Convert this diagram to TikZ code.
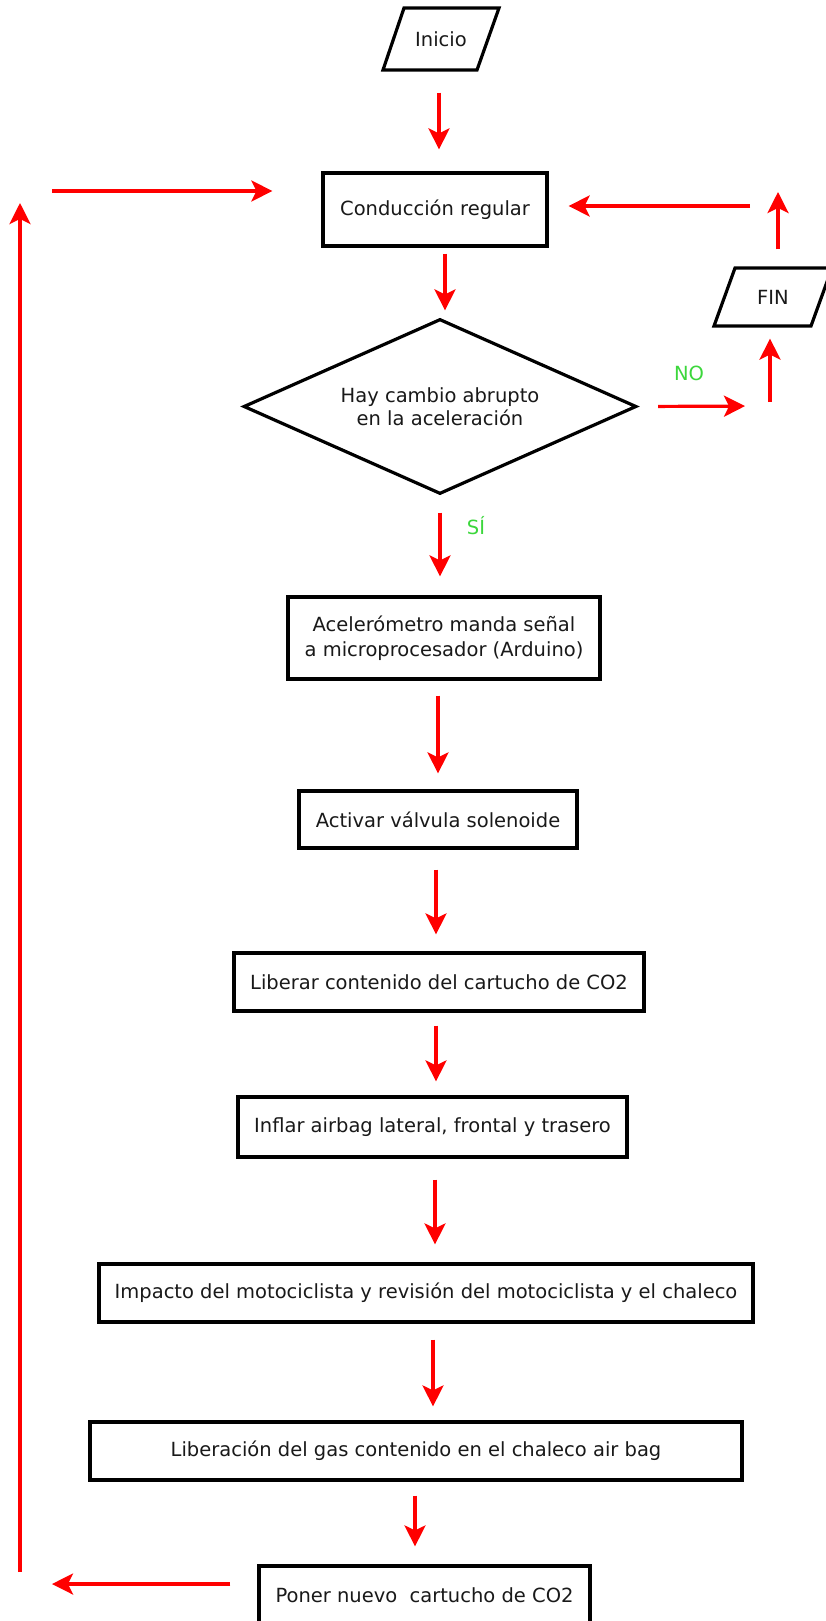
\documentclass[tikz,border=0pt]{standalone}
\usepackage{fontspec}
\setmainfont{DejaVu Sans}
\usetikzlibrary{arrows.meta,shapes.geometric,calc}
\definecolor{okgreen}{RGB}{60,215,60}
\definecolor{txt}{RGB}{25,25,25}
\begin{document}
\begin{tikzpicture}[x=1pt,y=-1pt,
  box/.style={draw=black, line width=3.2pt, rectangle, inner sep=0pt, text=txt,
    font=\fontsize{19.5pt}{25pt}\selectfont, align=center},
  arr/.style={draw=red, line width=3.2pt, -{Stealth[length=21pt,width=21pt,inset=5pt]}},
  lbl/.style={text=okgreen, inner sep=0pt, font=\fontsize{19.5pt}{24pt}\selectfont}]
\fill[white] (0,0) rectangle (825,1621);
\useasboundingbox (0,0) rectangle (825,1621);

% nodes
\node[box, draw=none, minimum width=95pt, minimum height=62pt] (inicio) at (441,39) {Inicio};
\draw[line width=3.2pt] (404,8) -- (499,8) -- (477,70) -- (383,70) -- cycle;

\node[box, minimum width=224pt, minimum height=73pt] (cond) at (435,209.5) {Conducción regular};

\node[box, shape=diamond, shape aspect=2.25, minimum width=393pt, minimum height=175pt,
  font=\fontsize{19.5pt}{23pt}\selectfont] (dia) at (440,406.5) {Hay cambio abrupto\\en la aceleración};

\node[box, draw=none, minimum width=97pt, minimum height=58pt] (fin) at (773,297) {FIN};
\draw[line width=3.2pt] (735,268) -- (832,268) -- (811,326) -- (714,326) -- cycle;

\node[box, minimum width=312pt, minimum height=82pt] (acel) at (444,638) {Acelerómetro manda señal\\a microprocesador (Arduino)};
\node[box, minimum width=278pt, minimum height=57pt] (activ) at (438,819.5) {Activar válvula solenoide};
\node[box, minimum width=410pt, minimum height=58pt] (liber) at (439,982) {Liberar contenido del cartucho de CO2};
\node[box, minimum width=389pt, minimum height=60pt] (infl) at (432.5,1127) {Inflar airbag lateral, frontal y trasero};
\node[box, minimum width=654pt, minimum height=58pt] (imp) at (426,1293) {Impacto del motociclista y revisión del motociclista y el chaleco};
\node[box, minimum width=652pt, minimum height=58pt] (libgas) at (416,1451) {Liberación del gas contenido en el chaleco air bag};
\node[box, minimum width=331pt, minimum height=58pt] (poner) at (424.5,1595) {Poner nuevo\ \ cartucho de CO2};

\node[lbl] (no) at (689,373) {NO};
\node[lbl] (si) at (476,526) {SÍ};

% main vertical arrows
\draw[arr, shorten <=21pt, shorten >=22pt] ($(inicio.south)+(-2,0)$) -- ($(inicio.south |- cond.north)+(-2,0)$);
\draw[arr, shorten <=6pt, shorten >=7pt] ($(cond.south)+(10,0)$) -- ($(cond.south |- dia.north)+(10,0)$);
\draw[arr, shorten <=17pt, shorten >=19pt] (dia.south) -- (dia.south |- acel.north);
\draw[arr, shorten <=15pt, shorten >=16pt] ($(acel.south)+(-6,0)$) -- ($(acel.south |- activ.north)+(-6,0)$);
\draw[arr, shorten <=20pt, shorten >=17pt] ($(activ.south)+(-2,0)$) -- ($(activ.south |- liber.north)+(-2,0)$);
\draw[arr, shorten <=13pt, shorten >=14pt] ($(liber.south)+(-3,0)$) -- ($(liber.south |- infl.north)+(-3,0)$);
\draw[arr, shorten <=21pt, shorten >=18pt] ($(infl.south)+(2.5,0)$) -- ($(infl.south |- imp.north)+(2.5,0)$);
\draw[arr, shorten <=16pt, shorten >=14pt] ($(imp.south)+(7,0)$) -- ($(imp.south |- libgas.north)+(7,0)$);
\draw[arr, shorten <=14pt, shorten >=18pt] ($(libgas.south)+(-1,0)$) -- ($(libgas.south |- poner.north)+(-1,0)$);

% NO branch to FIN and back to Conduccion
\coordinate (c1) at (770,406);
\draw[arr, shorten <=20pt, shorten >=25pt] (dia.east) -- (c1);
\draw[arr, shorten <=4pt, shorten >=11pt] (c1) -- (c1 |- fin.south);
\coordinate (c2) at (778,192);
\draw[arr, shorten <=17pt] ($(fin.north)+(5,0)$) -- (c2);
\coordinate (c3) at (750,206);
\draw[arr, shorten >=20pt] (c3) -- (c3 -| cond.east);

% left loop back
\coordinate (c4) at (52,1584);
\draw[arr, shorten <=27pt] ($(poner.west)+(0,-11)$) -- (c4);
\coordinate (c5) at (20,1572);
\coordinate (c6) at (20,203);
\draw[arr] (c5) -- (c6);
\coordinate (c7) at (52,191);
\draw[arr, shorten >=49pt] (c7) -- (c7 -| cond.west);
\end{tikzpicture}
\end{document}
